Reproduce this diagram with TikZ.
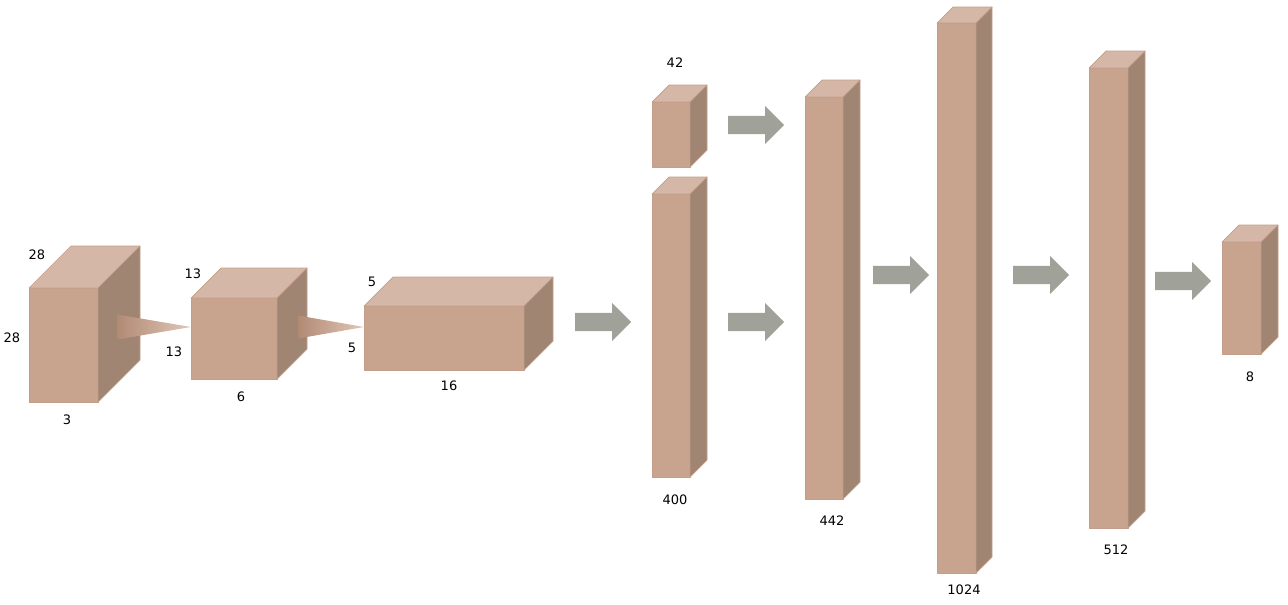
\documentclass[tikz,border=0pt]{standalone}
\usepackage{fontspec}
\setmainfont{DejaVu Sans}
\usepackage{tikz}
\usetikzlibrary{shapes.arrows,calc}
\usepackage{xcolor}
\definecolor{BoxFront}{RGB}{200,164,143}
\definecolor{BoxTop}  {RGB}{212,183,166}
\definecolor{BoxSide} {RGB}{160,133,115}
\definecolor{BoxEdge} {RGB}{196,158,138}
\definecolor{FlowGray}{RGB}{160,162,153}
\definecolor{FunnelD} {RGB}{178,138,116}
\definecolor{FunnelL} {RGB}{224,200,184}

\tikzset{
  face/.style={draw=BoxEdge,line width=0.7pt,line join=round},
  front/.style={face,fill=BoxFront,inner sep=0pt,outer sep=0pt},
  dimlbl/.style={font=\fontsize{13}{15}\selectfont,inner sep=0pt},
  flow/.style={single arrow,fill=FlowGray,draw=none,anchor=tail,
               inner xsep=0pt,inner ysep=9pt,minimum height=56pt,
               single arrow head extend=10pt},
  funnel/.style={left color=FunnelD,right color=FunnelL,draw=none}
}

\begin{document}
\begin{tikzpicture}[x=1pt,y=-1pt]
    \useasboundingbox (0,0) rectangle (1288,605);
    % layers as cuboids: front face is the node
    \foreach \n/\x/\y/\w/\h/\d in {
      1/63.5/345/69/114/42,
      2/234/338.5/86/81/30,
      3/444/338/160/64/29,
      4/671/134.5/38/65/17,
      5/671/335.5/38/283/17,
      6/824/298/38/402/17,
      7/956.5/298/39/550/16,
      8/1108.5/298/39/460/17,
      9/1241.5/298/39/112/17
    }{
      \node[front,minimum width=\w pt,minimum height=\h pt] (b\n) at (\x,\y) {};
      \draw[face,fill=BoxTop] (b\n.north west) -- ++(\d,-\d)
        -- ($(b\n.north east)+(\d,-\d)$) -- (b\n.north east) -- cycle;
      \draw[face,fill=BoxSide] (b\n.north east) -- ++(\d,-\d)
        -- ($(b\n.south east)+(\d,-\d)$) -- (b\n.south east) -- cycle;
    }
    % conv funnels
    \coordinate (f1) at (117,327);
    \coordinate (f2) at (298,327);
    \shade[funnel] ($(f1)+(0,-12.5)$) -- (f1 -| b2.west) -- ($(f1)+(0,12.5)$) -- cycle;
    \shade[funnel] ($(f2)+(0,-11.5)$) -- (f2 -| b3.west) -- ($(f2)+(0,11.5)$) -- cycle;
    % block arrows
    \node[flow] (a1) at (575,322) {};
    \node[flow] (a2) at (728,125) {};
    \node[flow] (a3) at (728,322) {};
    \node[flow] (a4) at (873,275) {};
    \node[flow] (a5) at (1013,275) {};
    \node[flow] (a6) at (1155,281) {};
    % sizes
    \node[dimlbl] (l1a) at (37,255) {28};
    \node[dimlbl] (l1b) at (12,338) {28};
    \node[dimlbl] (l1c) at (67,420) {3};
    \node[dimlbl] (l2a) at (193,274) {13};
    \node[dimlbl] (l2b) at (174,352) {13};
    \node[dimlbl] (l2c) at (241,397) {6};
    \node[dimlbl] (l3a) at (372,282) {5};
    \node[dimlbl] (l3b) at (352,348) {5};
    \node[dimlbl] (l3c) at (449,386) {16};
    \node[dimlbl] (l4) at (675,63) {42};
    \node[dimlbl] (l5) at (675,500) {400};
    \node[dimlbl] (l6) at (832,521) {442};
    \node[dimlbl] (l7) at (964,590) {1024};
    \node[dimlbl] (l8) at (1116,550) {512};
    \node[dimlbl] (l9) at (1250,377) {8};
\end{tikzpicture}
\end{document}
